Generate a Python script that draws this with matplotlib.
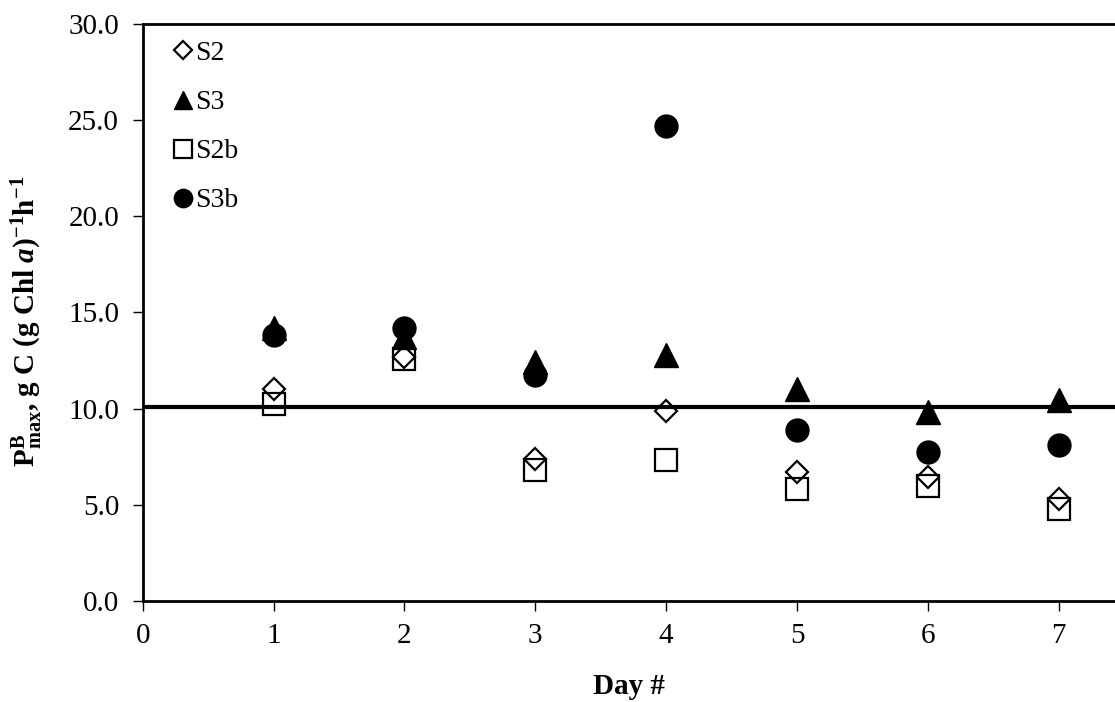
import matplotlib
matplotlib.use("Agg")
import matplotlib.pyplot as plt

days = [1, 2, 3, 4, 5, 6, 7]
s2 = [11.0, 12.7, 7.4, 9.85, 6.7, 6.45, 5.3]
s3 = [14.2, 13.7, 12.4, 12.8, 11.0, 9.8, 10.45]
s2b = [10.25, 12.6, 6.8, 7.3, 5.8, 6.0, 4.8]
s3b = [13.8, 14.2, 11.75, 24.7, 8.9, 7.75, 8.1]
ref_line = 10.1
xticks = [0, 1, 2, 3, 4, 5, 6, 7]
yticks = [0, 5, 10, 15, 20, 25, 30]

plt.rcParams['font.family'] = ['Liberation Serif', 'DejaVu Serif']
plt.rcParams['mathtext.fontset'] = 'custom'
plt.rcParams['mathtext.rm'] = 'Liberation Serif:bold'
plt.rcParams['mathtext.it'] = 'Liberation Serif:italic:bold'
plt.rcParams['mathtext.bf'] = 'Liberation Serif:bold'

fig = plt.figure(figsize=(11.15, 7.02), dpi=100)
ax = fig.add_axes([0.128, 0.144, 0.872, 0.822])

ax.axhline(ref_line, color='black', lw=3.0, zorder=1)

ax.plot(days, s2b, linestyle='none', marker='s', ms=15.5, mfc='none', mec='black', mew=1.6, label='S2b', zorder=3)
ax.plot(days, s2, linestyle='none', marker='D', ms=11.5, mfc='none', mec='black', mew=1.6, label='S2', zorder=3)
ax.plot(days, s3, linestyle='none', marker='^', ms=17, mfc='black', mec='black', label='S3', zorder=4)
ax.plot(days, s3b, linestyle='none', marker='o', ms=16.5, mfc='black', mec='black', label='S3b', zorder=5)

ax.set_xlim(0, 7.43)
ax.set_ylim(0, 30)
ax.set_xticks(xticks)
ax.set_yticks(yticks)
ax.set_yticklabels([f"{v:.1f}" for v in yticks])
ax.tick_params(axis='both', direction='out', length=7, width=1.0, labelsize=21)
ax.tick_params(axis='y', pad=10)
ax.tick_params(axis='x', pad=9)

for s in ['left', 'bottom', 'top']:
    ax.spines[s].set_linewidth(2.0)
ax.spines['right'].set_visible(False)

ax.set_xlabel('Day #', fontsize=21, fontweight='bold')
ax.xaxis.set_label_coords(0.5, -0.125)
ax.set_ylabel(r'P$^{\mathrm{B}}_{\mathrm{max}}$, g C (g Chl $\mathit{a}$)$^{\mathrm{-1}}$h$^{\mathrm{-1}}$',
              fontsize=21, fontweight='bold')
ax.yaxis.set_label_coords(-0.1, 0.485)

h, l = ax.get_legend_handles_labels()
order = [l.index(n) for n in ['S2', 'S3', 'S2b', 'S3b']]
leg = ax.legend([h[i] for i in order], [l[i] for i in order], loc='upper left',
                frameon=False, fontsize=20, markerscale=0.8, handlelength=0.7,
                handletextpad=0.1, labelspacing=0.85, borderaxespad=0.0,
                bbox_to_anchor=(0.02, 0.99))

fig.savefig('out.png', dpi=100, facecolor='white')
